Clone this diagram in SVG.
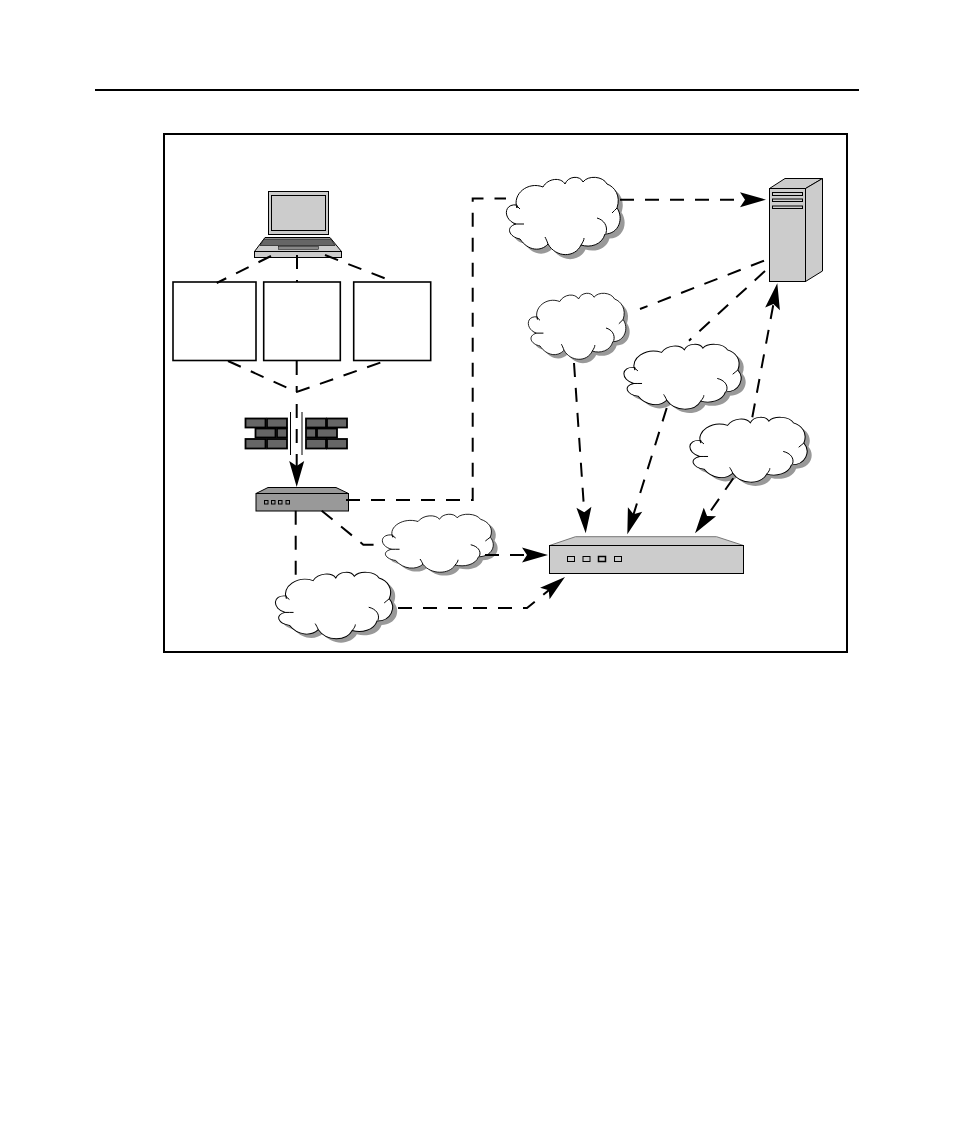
<svg xmlns="http://www.w3.org/2000/svg" xmlns:xlink="http://www.w3.org/1999/xlink" width="954" height="1145" viewBox="0 0 954 1145">
<style>
.o{stroke:#000;stroke-width:1}
.g{fill:#ccc}
.box{fill:#fff;stroke:#000;stroke-width:1.6}
.brick{fill:#666;stroke:#000;stroke-width:1.8}
.dash{fill:none;stroke:#000;stroke-width:2;stroke-dasharray:14 11}
.solid{fill:none;stroke:#000;stroke-width:1}
.cs{fill:#999;stroke:none}
.cw{fill:#fff;stroke:#000;stroke-width:1;vector-effect:non-scaling-stroke}
.cc{fill:none;stroke:#000;stroke-width:1;vector-effect:non-scaling-stroke}
</style>
<defs>
<marker id="ah" viewBox="0 -8 27 16" markerWidth="27" markerHeight="16" refX="14" refY="0" orient="auto" markerUnits="userSpaceOnUse" overflow="visible"><path d="M26,0 L0,-7.5 L5,0 L0,7.5Z" fill="#000"/></marker>
<path id="cp" d="M11,31 C6,17 22,4 37,10 C42,1 55,0 59,7 C62,-1 74,-2 77,5 C82,-2 97,-1 101,7 C109,10 115,19 111,31 C118,41 113,57 99,57 C96,68 84,71 75,68 C69,81 50,81 42,67 C35,75 22,74 14,62 C3,60 -1,50 10,47 C-3,43 -3,26 11,28Z"/>
<g id="cloud">
<use href="#cp" class="cs" transform="translate(4.5,4.5)"/>
<use href="#cp" class="cw"/>
<path class="cc" d="M91,41 C98,43 102,49 100,56 M42,67 C41,64 40,62 39,60 M75,68 C77,65 78,63 78,61 M10,47 C13,47 15,47 18,47 M11,29 C12,30 13,31 14,32 M111,31 C109,33 108,34 106,36"/>
</g>
</defs>
<rect width="954" height="1145" fill="#fff"/>
<line id="page-rule" x1="95" y1="90" x2="859" y2="90" stroke="#000" stroke-width="2"/>
<rect id="frame" x="164" y="134" width="683" height="518" fill="#fff" stroke="#000" stroke-width="2"/>

<g id="laptop">
<rect class="o g" x="268.5" y="191.5" width="60" height="43"/>
<rect class="o g" x="271.5" y="195.5" width="54" height="35"/>
<path class="o g" d="M265,237.5 H330 L341.5,251.5 H254.5Z"/>
<path d="M264,239 H331 L335,245.5 H260Z" fill="#666" stroke="#000" stroke-width=".6"/>
<rect x="278.5" y="246.5" width="40" height="2.8" fill="#888" stroke="#000" stroke-width=".5"/>
<rect class="o g" x="254.5" y="251.5" width="87" height="6"/>
</g>
<rect id="box-1" class="box" x="173" y="282" width="83" height="78.5"/>
<rect id="box-2" class="box" x="263.7" y="282" width="76.6" height="78.5"/>
<rect id="box-3" class="box" x="353.7" y="282" width="77" height="78.5"/>

<g id="firewall">
<rect class="brick" x="245.5" y="418.5" width="20" height="9"/>
<rect class="brick" x="267" y="418.5" width="20" height="9"/>
<rect class="brick" x="255.5" y="428.5" width="20" height="9"/>
<rect class="brick" x="277" y="428.5" width="10" height="9"/>
<rect class="brick" x="245.5" y="439" width="20" height="9.5"/>
<rect class="brick" x="267" y="439" width="20" height="9.5"/>
<rect class="brick" x="306" y="418.5" width="20" height="9"/>
<rect class="brick" x="327" y="418.5" width="20" height="9"/>
<rect class="brick" x="306" y="428.5" width="10" height="9"/>
<rect class="brick" x="317" y="428.5" width="20" height="9"/>
<rect class="brick" x="306" y="439" width="20" height="9.5"/>
<rect class="brick" x="327" y="439" width="20" height="9.5"/>
<line class="solid" x1="290.5" y1="412" x2="290.5" y2="455"/>
<line class="solid" x1="302" y1="412" x2="302" y2="455"/>
</g>

<g id="small-router">
<path d="M256,493.5 L268,487.5 H336 L348.5,493.5Z" fill="#999" stroke="#000"/>
<rect x="256" y="493.5" width="92.5" height="17.5" fill="#999" stroke="#000"/>
<g fill="#999" stroke="#000" stroke-width="1">
<rect x="264.5" y="500.5" width="3.5" height="3.5"/>
<rect x="271.5" y="500.5" width="3.5" height="3.5"/>
<rect x="278.5" y="500.5" width="3.5" height="3.5"/>
<rect x="286" y="500.5" width="3.5" height="3.5"/>
</g>
</g>

<g id="large-router">
<path d="M549.5,545.5 L575.5,536.7 H716.5 L743.5,545.5Z" fill="#ccc" stroke="#777"/>
<rect class="o g" x="549.5" y="545.5" width="194" height="28"/>
<g fill="#ccc" stroke="#000" stroke-width="1">
<rect x="567.5" y="556.5" width="7" height="5"/>
<rect x="583" y="556.5" width="7" height="5"/>
<rect x="598.5" y="556.5" width="7" height="5" stroke-width="1.5"/>
<rect x="614.5" y="556.5" width="7" height="5"/>
</g>
</g>

<g id="server">
<path class="o g" d="M769.5,188.5 L785,178.5 H822.5 L805.5,188.5Z"/>
<path class="o g" d="M805.5,188.5 L822.5,178.5 V271 L805.5,281.5Z"/>
<rect class="o g" x="769.5" y="188.5" width="36" height="93"/>
<rect class="o g" x="772.5" y="192.5" width="30" height="3"/>
<rect class="o g" x="772.5" y="199" width="30" height="2.5"/>
<rect class="o g" x="772.5" y="206" width="30" height="2.5"/>
</g>

<use id="cloud-1" href="#cloud" transform="translate(506,177)"/>
<use id="cloud-2" href="#cloud" transform="translate(528,293) scale(.857,.854)"/>
<use id="cloud-3" href="#cloud" transform="translate(623.5,344) scale(1.03,.84)"/>
<use id="cloud-4" href="#cloud" transform="translate(689.5,417) scale(1.03,.84)"/>
<use id="cloud-5" href="#cloud" transform="translate(382,514) scale(.975,.75)"/>
<use id="cloud-6" href="#cloud" transform="translate(275,572) scale(1.03,.86)"/>

<g id="connectors">
<path class="dash" d="M271,256 L216.7,283"/>
<path class="dash" d="M297,255 V282"/>
<path class="dash" d="M325,255 L391.7,281"/>
<path class="dash" d="M228,361 L296.7,392 L385,361"/>
<path class="dash" d="M296.7,361 V392"/>
<path class="dash" d="M296.7,404 V475" marker-end="url(#ah)"/>
<path class="dash" d="M346,500 H472.7 V198.5 H506"/>
<path class="dash" d="M620,199.7 H754" marker-end="url(#ah)"/>
<path class="dash" d="M321.7,510.7 L363.3,544.7 H382"/>
<path class="dash" d="M485,555 H536" marker-end="url(#ah)"/>
<path class="dash" d="M295.7,510.7 V578"/>
<path class="dash" d="M398,608 H527 L555.7,584.6" marker-end="url(#ah)"/>
<path class="dash" d="M764,260.7 L640,309"/>
<path class="dash" d="M765,271 L689,340.7"/>
<path class="dash" d="M574,363 L584.9,521.3" marker-end="url(#ah)"/>
<path class="dash" d="M666.7,408 L630.9,522.8" marker-end="url(#ah)"/>
<path class="dash" d="M733.3,478.3 L701.9,523.4" marker-end="url(#ah)"/>
<path class="dash" d="M752.3,417.3 L775.1,295.1" marker-end="url(#ah)"/>
</g>
</svg>
